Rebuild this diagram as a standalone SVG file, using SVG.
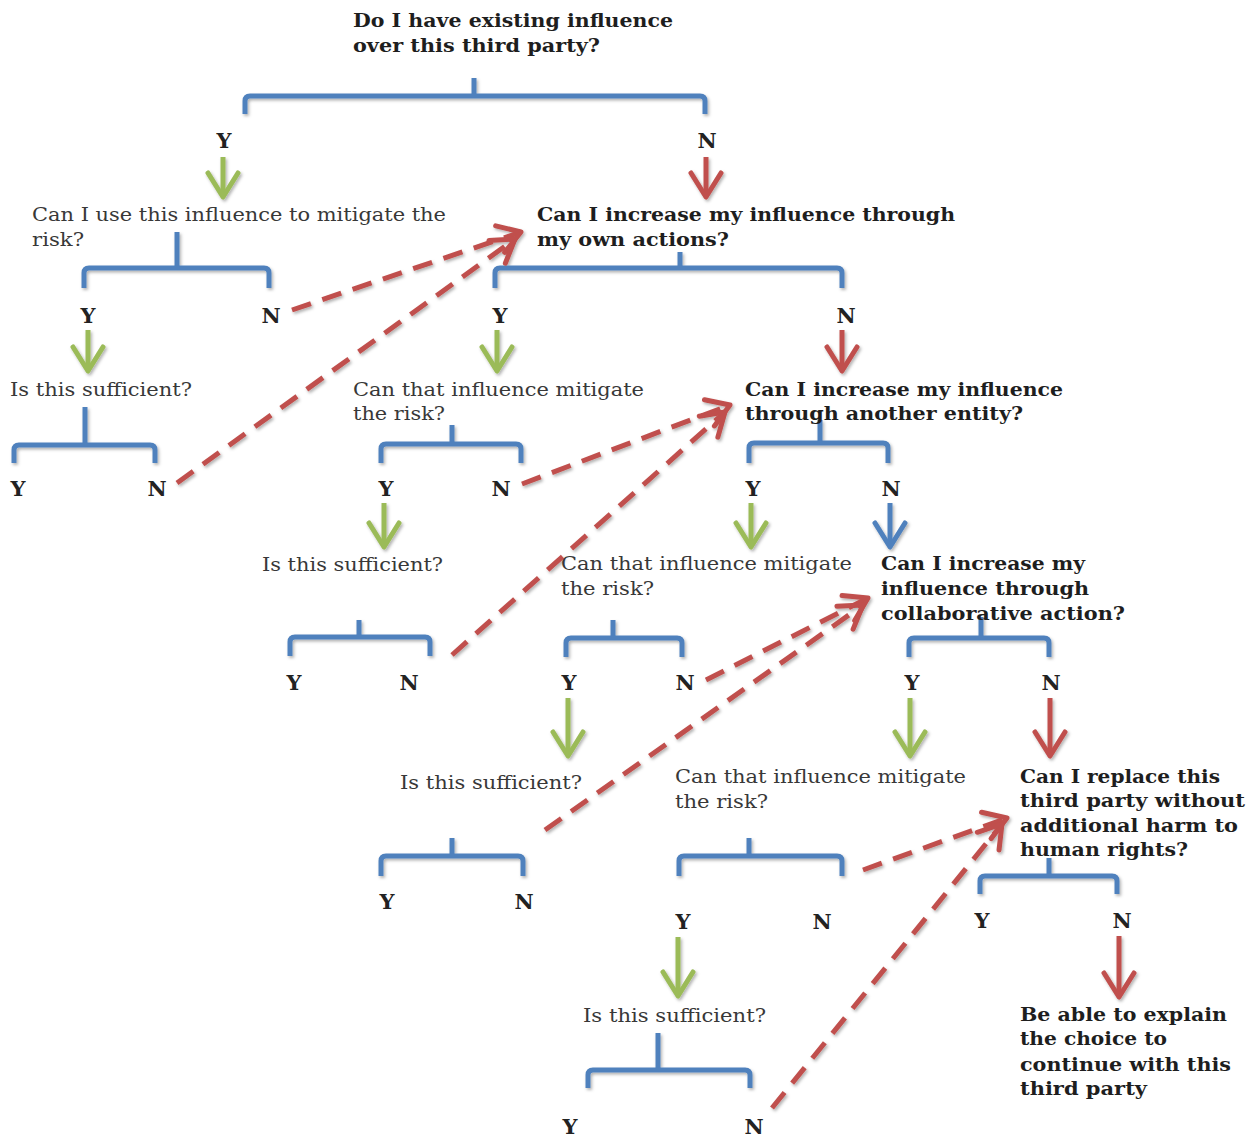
<svg xmlns="http://www.w3.org/2000/svg" width="1251" height="1141" viewBox="0 0 1251 1141">
<defs>
<style>
.b{font-family:"DejaVu Serif","Liberation Serif",serif;font-size:18px;font-weight:bold;fill:#1e1e1e}
.r{font-family:"DejaVu Serif","Liberation Serif",serif;font-size:18px;fill:#383838}
.yn{font-family:"DejaVu Serif","Liberation Serif",serif;font-size:21px;font-weight:bold;fill:#222;text-anchor:middle}
.br{fill:none;stroke:#4f81bd;stroke-width:5;stroke-linejoin:round}
.ag{fill:none;stroke:#9bbb59;stroke-width:5;marker-end:url(#hg)}
.ar{fill:none;stroke:#c0504d;stroke-width:5;marker-end:url(#hr)}
.ab{fill:none;stroke:#4f81bd;stroke-width:5;marker-end:url(#hb)}
.ad{fill:none;stroke:#c0504d;stroke-width:5;stroke-dasharray:20 12;marker-end:url(#hd)}
</style>
<filter id="sh" x="-5%" y="-5%" width="110%" height="110%">
<feDropShadow dx="1.5" dy="2" stdDeviation="1.5" flood-color="#000" flood-opacity="0.3"/>
</filter>
<marker id="hg" markerUnits="userSpaceOnUse" viewBox="-30 -20 34 40" markerWidth="34" markerHeight="40" refX="0" refY="0" orient="auto" overflow="visible">
<path d="M-24,-15 L0,0 L-24,15" fill="none" stroke="#9bbb59" stroke-width="5" stroke-linecap="round" stroke-linejoin="round"/>
</marker>
<marker id="hr" markerUnits="userSpaceOnUse" viewBox="-30 -20 34 40" markerWidth="34" markerHeight="40" refX="0" refY="0" orient="auto" overflow="visible">
<path d="M-24,-15 L0,0 L-24,15" fill="none" stroke="#c0504d" stroke-width="5" stroke-linecap="round" stroke-linejoin="round"/>
</marker>
<marker id="hb" markerUnits="userSpaceOnUse" viewBox="-30 -20 34 40" markerWidth="34" markerHeight="40" refX="0" refY="0" orient="auto" overflow="visible">
<path d="M-24,-15 L0,0 L-24,15" fill="none" stroke="#4f81bd" stroke-width="5" stroke-linecap="round" stroke-linejoin="round"/>
</marker>
<marker id="hd" markerUnits="userSpaceOnUse" viewBox="-30 -20 34 40" markerWidth="34" markerHeight="40" refX="0" refY="0" orient="auto" overflow="visible">
<path d="M-22,-14 L0,0 L-22,14" fill="none" stroke="#c0504d" stroke-width="5" stroke-dasharray="none" stroke-linecap="round" stroke-linejoin="round"/>
</marker>
</defs>
<rect width="1251" height="1141" fill="#fff"/>

<g id="connectors" filter="url(#sh)">
<g id="brackets">
<path class="br" d="M245,114 V101 Q245,96 250,96 H700 Q705,96 705,101 V114 M474,78 V96"/>
<path class="br" d="M84,288 V273 Q84,268 89,268 H264 Q269,268 269,273 V288 M177,232 V268"/>
<path class="br" d="M495,288 V273 Q495,268 500,268 H837 Q842,268 842,273 V288 M680,252 V268"/>
<path class="br" d="M14,463 V450 Q14,445 19,445 H150 Q155,445 155,450 V463 M85,407 V445"/>
<path class="br" d="M381,463 V449 Q381,444 386,444 H516 Q521,444 521,449 V463 M452,425 V444"/>
<path class="br" d="M749,463 V448 Q749,443 754,443 H883 Q888,443 888,448 V463 M820,420 V443"/>
<path class="br" d="M290,656 V642 Q290,637 295,637 H425 Q430,637 430,642 V656 M359,620 V637"/>
<path class="br" d="M566,657 V643 Q566,638 571,638 H677 Q682,638 682,643 V657 M613,620 V638"/>
<path class="br" d="M909,657 V643 Q909,638 914,638 H1044 Q1049,638 1049,643 V657 M981,617 V638"/>
<path class="br" d="M381,876 V861 Q381,856 386,856 H518 Q523,856 523,861 V876 M452,838 V856"/>
<path class="br" d="M679,876 V861 Q679,856 684,856 H837 Q842,856 842,861 V876 M749,838 V856"/>
<path class="br" d="M980,894 V881 Q980,876 985,876 H1112 Q1117,876 1117,881 V894 M1049,858 V876"/>
<path class="br" d="M588,1088 V1075 Q588,1070 593,1070 H745 Q750,1070 750,1075 V1088 M658,1033 V1070"/>
</g>
<g id="solid-arrows">
<path class="ag" d="M223,157 V197"/>
<path class="ar" d="M706,157 V197"/>
<path class="ag" d="M88,330 V371"/>
<path class="ag" d="M497,330 V371"/>
<path class="ar" d="M842,330 V371"/>
<path class="ag" d="M384,503 V547"/>
<path class="ag" d="M751,503 V547"/>
<path class="ab" d="M890,503 V547"/>
<path class="ag" d="M568,698 V756"/>
<path class="ag" d="M910,698 V756"/>
<path class="ar" d="M1050,698 V756"/>
<path class="ag" d="M678,937 V996"/>
<path class="ar" d="M1119,936 V997"/>
</g>
<g id="dashed-arrows">
<path class="ad" d="M292,310 L521,232"/>
<path class="ad" d="M177,483 L515,239"/>
<path class="ad" d="M522,484 L730,405"/>
<path class="ad" d="M452,655 L725,412"/>
<path class="ad" d="M706,680 L868,598"/>
<path class="ad" d="M545,830 L863,605"/>
<path class="ad" d="M863,870 L1007,818"/>
<path class="ad" d="M772,1108 L1002,824"/>
</g>
</g>

<g id="branch-labels">
<text class="yn" x="224" y="148">Y</text><text class="yn" x="707" y="148">N</text>
<text class="yn" x="88" y="323">Y</text><text class="yn" x="271" y="323">N</text>
<text class="yn" x="500" y="323">Y</text><text class="yn" x="846" y="323">N</text>
<text class="yn" x="18" y="496">Y</text><text class="yn" x="157" y="496">N</text>
<text class="yn" x="386" y="496">Y</text><text class="yn" x="501" y="496">N</text>
<text class="yn" x="753" y="496">Y</text><text class="yn" x="891" y="496">N</text>
<text class="yn" x="294" y="690">Y</text><text class="yn" x="409" y="690">N</text>
<text class="yn" x="569" y="690">Y</text><text class="yn" x="685" y="690">N</text>
<text class="yn" x="912" y="690">Y</text><text class="yn" x="1051" y="690">N</text>
<text class="yn" x="387" y="909">Y</text><text class="yn" x="524" y="909">N</text>
<text class="yn" x="683" y="929">Y</text><text class="yn" x="822" y="929">N</text>
<text class="yn" x="982" y="928">Y</text><text class="yn" x="1122" y="928">N</text>
<text class="yn" x="570" y="1134">Y</text><text class="yn" x="754" y="1134">N</text>
</g>

<g id="q-existing">
<text class="b" x="353" y="27" textLength="320" lengthAdjust="spacingAndGlyphs">Do I have existing influence</text>
<text class="b" x="353" y="52" textLength="247" lengthAdjust="spacingAndGlyphs">over this third party?</text>
</g>
<g id="q-use-influence">
<text class="r" x="32" y="221" textLength="414" lengthAdjust="spacingAndGlyphs">Can I use this influence to mitigate the</text>
<text class="r" x="32" y="246" textLength="52" lengthAdjust="spacingAndGlyphs">risk?</text>
</g>
<g id="q-own-actions">
<text class="b" x="537" y="221" textLength="418" lengthAdjust="spacingAndGlyphs">Can I increase my influence through</text>
<text class="b" x="537" y="246" textLength="192" lengthAdjust="spacingAndGlyphs">my own actions?</text>
</g>
<g id="q-sufficient-1">
<text class="r" x="10" y="396" textLength="182" lengthAdjust="spacingAndGlyphs">Is this sufficient?</text>
</g>
<g id="q-mitigate-1">
<text class="r" x="353" y="396" textLength="291" lengthAdjust="spacingAndGlyphs">Can that influence mitigate</text>
<text class="r" x="353" y="420" textLength="92" lengthAdjust="spacingAndGlyphs">the risk?</text>
</g>
<g id="q-another-entity">
<text class="b" x="745" y="396" textLength="318" lengthAdjust="spacingAndGlyphs">Can I increase my influence</text>
<text class="b" x="745" y="420" textLength="278" lengthAdjust="spacingAndGlyphs">through another entity?</text>
</g>
<g id="q-sufficient-2">
<text class="r" x="262" y="571" textLength="181" lengthAdjust="spacingAndGlyphs">Is this sufficient?</text>
</g>
<g id="q-mitigate-2">
<text class="r" x="561" y="570" textLength="291" lengthAdjust="spacingAndGlyphs">Can that influence mitigate</text>
<text class="r" x="561" y="595" textLength="93" lengthAdjust="spacingAndGlyphs">the risk?</text>
</g>
<g id="q-collaborative">
<text class="b" x="881" y="570" textLength="204" lengthAdjust="spacingAndGlyphs">Can I increase my</text>
<text class="b" x="881" y="595" textLength="208" lengthAdjust="spacingAndGlyphs">influence through</text>
<text class="b" x="881" y="620" textLength="244" lengthAdjust="spacingAndGlyphs">collaborative action?</text>
</g>
<g id="q-sufficient-3">
<text class="r" x="400" y="789" textLength="182" lengthAdjust="spacingAndGlyphs">Is this sufficient?</text>
</g>
<g id="q-mitigate-3">
<text class="r" x="675" y="783" textLength="291" lengthAdjust="spacingAndGlyphs">Can that influence mitigate</text>
<text class="r" x="675" y="808" textLength="93" lengthAdjust="spacingAndGlyphs">the risk?</text>
</g>
<g id="q-replace">
<text class="b" x="1020" y="783" textLength="200" lengthAdjust="spacingAndGlyphs">Can I replace this</text>
<text class="b" x="1020" y="807" textLength="225" lengthAdjust="spacingAndGlyphs">third party without</text>
<text class="b" x="1020" y="832" textLength="218" lengthAdjust="spacingAndGlyphs">additional harm to</text>
<text class="b" x="1020" y="856" textLength="168" lengthAdjust="spacingAndGlyphs">human rights?</text>
</g>
<g id="q-sufficient-4">
<text class="r" x="583" y="1022" textLength="183" lengthAdjust="spacingAndGlyphs">Is this sufficient?</text>
</g>
<g id="r-explain">
<text class="b" x="1020" y="1021" textLength="207" lengthAdjust="spacingAndGlyphs">Be able to explain</text>
<text class="b" x="1020" y="1045" textLength="147" lengthAdjust="spacingAndGlyphs">the choice to</text>
<text class="b" x="1020" y="1071" textLength="211" lengthAdjust="spacingAndGlyphs">continue with this</text>
<text class="b" x="1020" y="1095" textLength="127" lengthAdjust="spacingAndGlyphs">third party</text>
</g>
</svg>
